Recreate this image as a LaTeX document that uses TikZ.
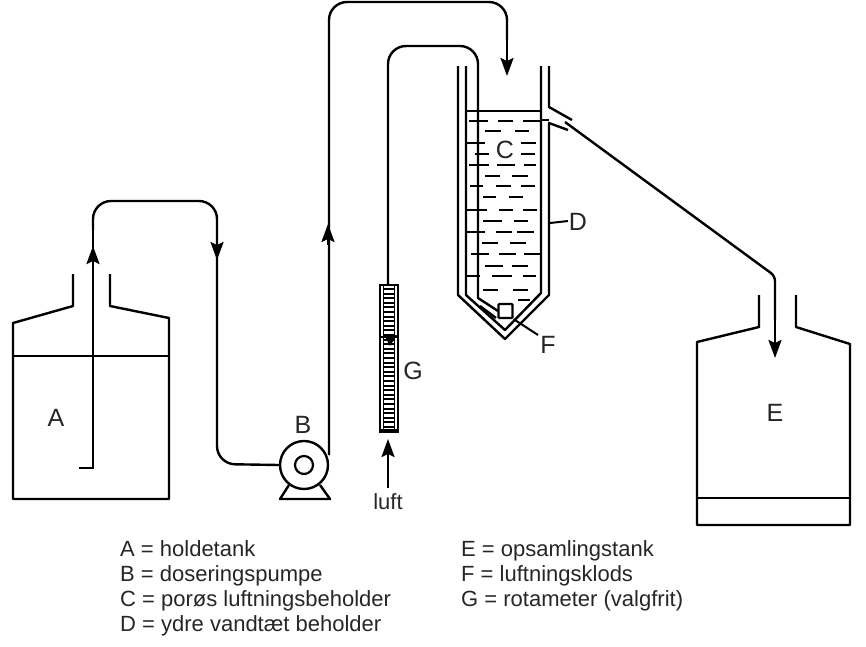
\documentclass[tikz,border=0pt]{standalone}
\usepackage{fontspec}
\setmainfont{Liberation Sans}
\usetikzlibrary{arrows.meta}
\tikzset{
  wall/.style={line width=2.4pt, line join=round},
  thinwall/.style={line width=2pt},
  pipe/.style={line width=2.4pt, rounded corners=18pt},
  flowtip/.style={-{Stealth[length=18pt,width=13pt,inset=3pt]}, line width=2.4pt},
  letter/.style={inner sep=0pt, font=\fontsize{25}{25}\selectfont, text=black!85},
  legend/.style={inner sep=0pt, anchor=base west, font=\fontsize{22}{22}\selectfont, text=black!85},
  ripple/.style={line width=2pt}
}
\begin{document}
\begin{tikzpicture}[x=1pt,y=-1pt]
\useasboundingbox (0,0) rectangle (866,646);
\fill[white] (0,0) rectangle (866,646);

% holding tank A
\draw[wall] (73,274) -- (73,306) -- (13,323) -- (13,499) -- (169,499) -- (169,318) -- (110,306) -- (110,274);
\draw[wall] (13,356) -- (169,356);
\node[letter] (labelA) at (56,418) {A};

% suction line from A to the pump
\coordinate (dip) at (79,468);
\node[circle,draw,line width=2.4pt,minimum size=48pt,inner sep=0pt] (pump) at (304,465) {};
\node[circle,draw,line width=2.2pt,minimum size=18pt,inner sep=0pt] (rotor) at (304,465) {};
\draw[wall,line join=miter] (dip) -- (93,468) -- (93,230);
\draw[pipe] (93,230) -- (93,201) -- (217,201) -- (217,464) -- (pump.west);
\draw[flowtip] (93,266) -- (93,246);
\draw[flowtip] (217,241) -- (217,260);

% pump B and its foot
\draw[wall] (289,485) -- (280,499) -- (330,499) -- (320,485);
\node[letter] (labelB) at (303,425) {B};

% delivery line from the pump to the vessel
\coordinate (feed) at (507,76);
\coordinate (feedrise) at (329,455);
\draw[pipe] (feedrise) -- (329,2) -- (507,2) -- (507,40);
\draw[flowtip] (507,40) -- (feed);
\draw[flowtip] (328,245) -- (328,224);

% rotameter G
\draw[line width=2pt] (380,285) rectangle (398,432);
\draw[line width=1.6pt] (383.5,285) -- (383.5,432) (394.5,285) -- (394.5,432);
\foreach \y in {289,293.6,...,430} \draw[line width=2pt] (383,\y) -- (395,\y);
\draw[line width=4pt] (380,431) -- (398,431);
\draw[line width=2.4pt] (380,337) -- (398,337);
\fill (384,335) -- (397,335) -- (390,346) -- cycle;
\node[letter] (labelG) at (413,371) {G};
\node[font=\fontsize{22}{22}\selectfont,inner sep=0pt,text=black!85] (air) at (388,502) {luft};
\draw[-{Stealth[length=18pt,width=13pt,inset=3pt]},line width=2pt] (388,488) -- (388,439);

% air line from the rotameter down into the vessel
\coordinate (stone) at (498,311);
\draw[pipe] (388,285) -- (388,46) -- (478,46) -- (478,200);
\draw[wall] (478,200) -- (478,298) -- (stone);
\draw[wall] (480,306) -- (496,318);

% double-walled vessel with spout
\draw[wall] (458,66) -- (458,295) -- (505,339) -- (549,295) -- (549,123) -- (568,130);
\draw[wall] (549,66) -- (549,107) -- (572,120);
\draw[wall] (466,66) -- (466,295) -- (505,330) -- (541,293) -- (541,66);
\draw[wall] (466,111) -- (541,111);
\draw[wall] (541,120) -- (549,120);

% liquid surface ripples
\foreach \y/\a/\b in {
  121/469/488, 121/498/513, 121/523/540,
  131/485/501, 131/515/529,
  143/466/485, 143/521/536,
  154/475/489, 154/521/535,
  165/469/489, 165/497/515, 165/524/536,
  176/485/500, 176/512/528,
  186/470/483, 186/496/511, 186/521/535,
  197/483/496, 197/509/523,
  210/466/487, 210/499/513, 210/523/537,
  221/483/502, 221/514/528,
  232/467/485, 232/496/512, 232/517/534,
  243/482/498, 243/510/526,
  254/471/489, 254/499/516, 254/524/541,
  266/485/503, 266/512/528,
  276/466/480, 276/492/512, 276/523/536,
  290/483/498, 290/513/528,
  300/518/530}
  \draw[ripple] (\a,\y) -- (\b,\y);

\node[letter] (labelC) at (505,150) {C};
\coordinate (tagD) at (568,221);
\draw[thinwall] (550,223) -- (tagD);
\node[letter] (labelD) at (578,222) {D};

% aeration stone F
\node[draw,line width=2.2pt,minimum size=14pt,inner sep=0pt,rounded corners=1pt] (block) at (505.5,311) {};
\coordinate (tagF) at (538,335);
\draw[thinwall] (block.south east) -- (tagF);
\node[letter] (labelF) at (548,345) {F};

% overflow line to collection tank E
\coordinate (outlet) at (565,122);
\coordinate (outfall) at (775,358);
\draw[wall,rounded corners=5pt] (outlet) -- (775,276) -- (775,320);
\draw[flowtip] (775,320) -- (outfall);

% collection tank E
\draw[wall] (759,295) -- (759,327) -- (697,342) -- (697,525) -- (850,525) -- (850,344) -- (796,327) -- (796,295);
\draw[wall] (697,498) -- (850,498);
\node[letter] (labelE) at (775,413) {E};

% key
\node[legend] (k1) at (120,556) {A = holdetank};
\node[legend] (k2) at (120,581) {B = doseringspumpe};
\node[legend] (k3) at (120,606) {C = porøs luftningsbeholder};
\node[legend] (k4) at (120,631) {D = ydre vandtæt beholder};
\node[legend] (k5) at (461,556) {E = opsamlingstank};
\node[legend] (k6) at (461,581) {F = luftningsklods};
\node[legend] (k7) at (461,606) {G = rotameter (valgfrit)};
\end{tikzpicture}
\end{document}
